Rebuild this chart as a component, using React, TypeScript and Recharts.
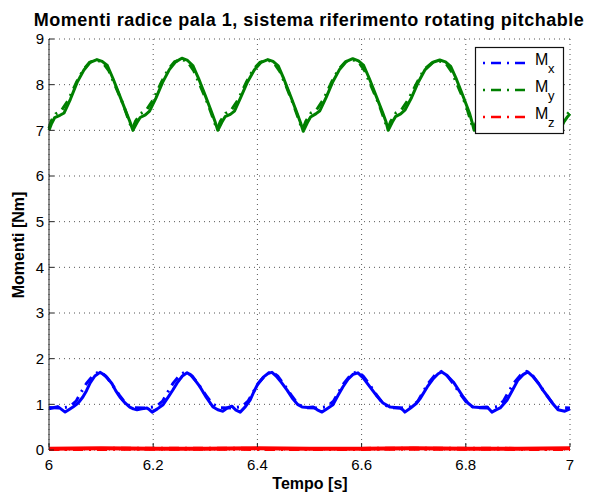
import React from 'react';
import { LineChart, Line, XAxis, YAxis, CartesianGrid } from 'recharts';

// time [s], moment [Nm] pairs
const myMeasured: [number, number][] = [
  [6.0, 7.0], [6.005, 7.15], [6.011, 7.28], [6.021, 7.33], [6.029, 7.38], [6.041, 7.68], [6.054, 8.05],
  [6.067, 8.32], [6.079, 8.49], [6.092, 8.55], [6.102, 8.51], [6.112, 8.42], [6.123, 8.13], [6.136, 7.75],
  [6.148, 7.4], [6.155, 7.2], [6.161, 7.0],
  [6.169, 7.17], [6.175, 7.28], [6.185, 7.34], [6.193, 7.42], [6.205, 7.7], [6.218, 8.05], [6.231, 8.33],
  [6.243, 8.5], [6.255, 8.58], [6.266, 8.53], [6.276, 8.42], [6.287, 8.14], [6.3, 7.76], [6.312, 7.4],
  [6.319, 7.18], [6.324, 7.0],
  [6.332, 7.18], [6.338, 7.3], [6.348, 7.35], [6.356, 7.42], [6.368, 7.72], [6.381, 8.06], [6.394, 8.32],
  [6.407, 8.49], [6.42, 8.55], [6.43, 8.51], [6.44, 8.41], [6.451, 8.12], [6.464, 7.74], [6.476, 7.38],
  [6.483, 7.16], [6.488, 6.98],
  [6.496, 7.17], [6.502, 7.29], [6.512, 7.36], [6.52, 7.43], [6.532, 7.72], [6.545, 8.07], [6.558, 8.34],
  [6.571, 8.51], [6.583, 8.57], [6.594, 8.52], [6.604, 8.42], [6.615, 8.13], [6.628, 7.75], [6.64, 7.4],
  [6.647, 7.18], [6.651, 7.0],
  [6.659, 7.18], [6.665, 7.3], [6.675, 7.36], [6.683, 7.44], [6.696, 7.72], [6.709, 8.06], [6.722, 8.33],
  [6.737, 8.49], [6.75, 8.54], [6.761, 8.5], [6.771, 8.4], [6.782, 8.12], [6.795, 7.74], [6.807, 7.38],
  [6.812, 7.18], [6.816, 7.0],
  [6.824, 7.18], [6.83, 7.29], [6.84, 7.35], [6.848, 7.42], [6.86, 7.72], [6.873, 8.06], [6.886, 8.34],
  [6.9, 8.5], [6.914, 8.55], [6.925, 8.51], [6.935, 8.41], [6.946, 8.12], [6.959, 7.75], [6.971, 7.4],
  [6.977, 7.18], [6.981, 7.0], [6.988, 7.18], [6.994, 7.28], [7.0, 7.36],
];

const mySimulated: [number, number][] = [
  [6.0, 7.04], [6.004, 7.2], [6.013, 7.36], [6.023, 7.42], [6.037, 7.66], [6.053, 8.06], [6.066, 8.33],
  [6.078, 8.49], [6.091, 8.54], [6.103, 8.49], [6.115, 8.3], [6.127, 7.98], [6.142, 7.58], [6.155, 7.16],
  [6.16, 7.03],
  [6.166, 7.2], [6.176, 7.37], [6.186, 7.43], [6.2, 7.67], [6.216, 8.06], [6.229, 8.34], [6.241, 8.5],
  [6.254, 8.56], [6.266, 8.5], [6.278, 8.3], [6.29, 7.98], [6.305, 7.58], [6.318, 7.16], [6.323, 7.03],
  [6.329, 7.2], [6.339, 7.37], [6.349, 7.43], [6.363, 7.67], [6.379, 8.06], [6.392, 8.33], [6.405, 8.49],
  [6.419, 8.54], [6.431, 8.49], [6.443, 8.29], [6.455, 7.97], [6.469, 7.57], [6.482, 7.15], [6.487, 7.02],
  [6.493, 7.2], [6.503, 7.38], [6.513, 7.44], [6.527, 7.68], [6.543, 8.07], [6.556, 8.34], [6.569, 8.5],
  [6.582, 8.55], [6.594, 8.5], [6.606, 8.3], [6.618, 7.98], [6.633, 7.58], [6.646, 7.16], [6.65, 7.03],
  [6.656, 7.2], [6.666, 7.38], [6.676, 7.44], [6.69, 7.68], [6.707, 8.06], [6.72, 8.33], [6.735, 8.48],
  [6.749, 8.52], [6.761, 8.48], [6.773, 8.28], [6.785, 7.96], [6.8, 7.56], [6.811, 7.15], [6.815, 7.03],
  [6.821, 7.2], [6.831, 7.37], [6.841, 7.43], [6.855, 7.67], [6.871, 8.06], [6.884, 8.34], [6.898, 8.49],
  [6.913, 8.53], [6.925, 8.49], [6.937, 8.29], [6.949, 7.97], [6.964, 7.57], [6.976, 7.16], [6.98, 7.03],
  [6.986, 7.2], [6.996, 7.37], [7.0, 7.41],
];

const mxMeasured: [number, number][] = [
  [6.0, 0.9], [6.01, 0.93], [6.017, 0.95], [6.024, 0.89], [6.031, 0.83], [6.038, 0.88], [6.046, 0.94],
  [6.056, 1.03], [6.065, 1.16], [6.072, 1.3], [6.079, 1.47], [6.088, 1.62], [6.098, 1.7], [6.104, 1.66],
  [6.112, 1.58], [6.121, 1.45], [6.128, 1.3], [6.136, 1.16], [6.146, 1.03], [6.155, 0.94], [6.162, 0.9],
  [6.169, 0.88], [6.178, 0.9], [6.188, 0.92], [6.193, 0.88], [6.198, 0.83], [6.208, 0.9], [6.219, 0.99],
  [6.23, 1.18], [6.238, 1.32], [6.246, 1.47], [6.256, 1.62], [6.265, 1.69], [6.272, 1.64], [6.281, 1.52],
  [6.29, 1.38], [6.302, 1.15], [6.315, 0.94], [6.324, 0.88], [6.334, 0.85], [6.342, 0.92], [6.351, 0.96],
  [6.358, 0.88], [6.367, 0.83], [6.377, 0.95], [6.386, 1.09], [6.393, 1.27], [6.401, 1.45], [6.412, 1.6],
  [6.421, 1.68], [6.428, 1.7], [6.436, 1.62], [6.446, 1.48], [6.457, 1.31], [6.468, 1.12], [6.477, 1.0],
  [6.486, 0.94], [6.497, 0.93], [6.507, 0.94], [6.515, 0.88], [6.524, 0.83], [6.533, 0.9], [6.545, 0.99],
  [6.554, 1.18], [6.564, 1.38], [6.574, 1.55], [6.584, 1.66], [6.593, 1.69], [6.603, 1.58], [6.616, 1.38],
  [6.628, 1.2], [6.641, 1.03], [6.655, 0.94], [6.664, 0.93], [6.674, 0.92], [6.679, 0.88], [6.683, 0.83],
  [6.694, 0.92], [6.706, 1.03], [6.712, 1.12], [6.726, 1.38], [6.738, 1.57], [6.747, 1.67], [6.754, 1.71],
  [6.762, 1.65], [6.776, 1.49], [6.786, 1.32], [6.795, 1.16], [6.804, 1.03], [6.814, 0.94], [6.826, 0.93],
  [6.841, 0.94], [6.846, 0.88], [6.85, 0.83], [6.858, 0.88], [6.866, 0.92], [6.879, 1.09], [6.89, 1.32],
  [6.9, 1.53], [6.91, 1.65], [6.919, 1.71], [6.928, 1.62], [6.939, 1.47], [6.948, 1.31], [6.958, 1.16],
  [6.968, 1.0], [6.977, 0.88], [6.99, 0.85], [7.0, 0.9],
];

const mxSimulated: [number, number][] = [
  [6.0, 0.93], [6.025, 0.92], [6.04, 0.95], [6.052, 1.07], [6.062, 1.27], [6.072, 1.46], [6.085, 1.64],
  [6.097, 1.72], [6.109, 1.62], [6.122, 1.42], [6.135, 1.2], [6.147, 1.02], [6.159, 0.93], [6.185, 0.92],
  [6.206, 0.95], [6.218, 1.07], [6.228, 1.27], [6.238, 1.46], [6.251, 1.64], [6.263, 1.72], [6.275, 1.62],
  [6.288, 1.42], [6.301, 1.2], [6.313, 1.02], [6.325, 0.93], [6.35, 0.92], [6.37, 0.95], [6.382, 1.07],
  [6.392, 1.27], [6.402, 1.46], [6.415, 1.64], [6.427, 1.72], [6.439, 1.62], [6.452, 1.42], [6.465, 1.2],
  [6.477, 1.02], [6.489, 0.93], [6.515, 0.92], [6.534, 0.95], [6.546, 1.07], [6.556, 1.27], [6.566, 1.46],
  [6.579, 1.64], [6.591, 1.72], [6.603, 1.62], [6.616, 1.42], [6.629, 1.2], [6.641, 1.02], [6.653, 0.93],
  [6.675, 0.92], [6.696, 0.95], [6.708, 1.07], [6.718, 1.27], [6.728, 1.46], [6.741, 1.64], [6.753, 1.72],
  [6.765, 1.62], [6.778, 1.42], [6.791, 1.2], [6.803, 1.02], [6.815, 0.93], [6.84, 0.92], [6.86, 0.95],
  [6.872, 1.07], [6.882, 1.27], [6.892, 1.46], [6.905, 1.64], [6.917, 1.72], [6.929, 1.62], [6.942, 1.42],
  [6.955, 1.2], [6.967, 1.02], [6.979, 0.93], [7.0, 0.92],
];

const mzMeasured: [number, number][] = [
  [6.0, 0.03], [6.1, 0.04], [6.2, 0.03], [6.3, 0.03], [6.4, 0.04], [6.5, 0.03],
  [6.6, 0.03], [6.7, 0.04], [6.8, 0.03], [6.9, 0.03], [7.0, 0.04],
];

const mzSimulated: [number, number][] = [
  [6.0, 0.02], [6.25, 0.03], [6.5, 0.02], [6.75, 0.03], [7.0, 0.02],
];

const xTicks = [6, 6.2, 6.4, 6.6, 6.8, 7];
const yTicks = [0, 1, 2, 3, 4, 5, 6, 7, 8, 9];

const series = [
  { name: 'x', color: '#0000ff', width: 3, measured: mxMeasured, simulated: mxSimulated },
  { name: 'y', color: '#008000', width: 3, measured: myMeasured, simulated: mySimulated },
  { name: 'z', color: '#ff0000', width: 4, measured: mzMeasured, simulated: mzSimulated },
];

const FONT = '"Liberation Sans", Arial, Helvetica, sans-serif';
const DASH_DOT = '10 6 2 6';

const toRows = (pts: [number, number][]) => pts.map(([t, v]) => ({ t, v }));

const YTick = ({ y, payload }: any) => (
  <g>
    <text x={44} y={y} dy="0.36em" textAnchor="end" fontSize={15} fontFamily={FONT} fill="#000">
      {payload.value}
    </text>
    <line x1={49} x2={54} y1={y} y2={y} stroke="#222" />
  </g>
);

const XTick = ({ x, payload }: any) => (
  <g>
    <text x={x} y={470} textAnchor="middle" fontSize={15} fontFamily={FONT} fill="#000">
      {payload.value}
    </text>
    <line x1={x} x2={x} y1={447} y2={443} stroke="#222" />
  </g>
);

export default function App() {
  return (
    <div style={{ position: 'absolute', left: 0, top: 0, width: 590, height: 495, background: '#fff' }}>
      <LineChart width={590} height={495} margin={{ top: 39, right: 20, bottom: 15, left: 9 }}>
        <CartesianGrid stroke="#555" strokeDasharray="1 4" />
        <XAxis
          type="number"
          dataKey="t"
          domain={[6, 7]}
          ticks={xTicks}
          height={30}
          tickLine={false}
          axisLine={false}
          tick={<XTick />}
          allowDuplicatedCategory={false}
        />
        <YAxis
          type="number"
          dataKey="v"
          domain={[0, 9]}
          ticks={yTicks}
          width={40}
          tickLine={false}
          axisLine={{ stroke: '#222' }}
          tick={<YTick />}
        />
        {series.map((s) => (
          <Line
            key={'sim' + s.name}
            data={toRows(s.simulated)}
            dataKey="v"
            type="linear"
            stroke={s.color}
            strokeWidth={s.width}
            strokeDasharray={DASH_DOT}
            dot={false}
            activeDot={false}
            isAnimationActive={false}
          />
        ))}
        {series.map((s) => (
          <Line
            key={'meas' + s.name}
            data={toRows(s.measured)}
            dataKey="v"
            type="linear"
            stroke={s.color}
            strokeWidth={s.width}
            strokeLinejoin="round"
            dot={false}
            activeDot={false}
            isAnimationActive={false}
          />
        ))}
      </LineChart>
      <svg
        width={590}
        height={495}
        style={{ position: 'absolute', left: 0, top: 0, pointerEvents: 'none' }}
        fontFamily={FONT}
      >
        <text x={309} y={26} textAnchor="middle" fontSize={18} fontWeight="bold" letterSpacing={0.5}>
          Momenti radice pala 1, sistema riferimento rotating pitchable
        </text>
        <text x={310} y={489} textAnchor="middle" fontSize={16} fontWeight="bold">
          Tempo [s]
        </text>
        <text x={24} y={245} textAnchor="middle" fontSize={16} fontWeight="bold" transform="rotate(-90 24 245)">
          Momenti [Nm]
        </text>
        <rect x={475.5} y={47.5} width={88} height={86} fill="#fff" stroke="#111" strokeWidth={1.2} />
        {series.map((s, i) => {
          const ly = 63 + i * 27;
          return (
            <g key={s.name}>
              <line x1={483} x2={525} y1={ly} y2={ly} stroke={s.color} strokeWidth={2.5} strokeDasharray="2 6 10 6" />
              <text x={535} y={ly + 2} fontSize={16} fill="#000">M</text>
              <text x={548} y={ly + 10} fontSize={13} fill="#000">{s.name}</text>
            </g>
          );
        })}
      </svg>
    </div>
  );
}
